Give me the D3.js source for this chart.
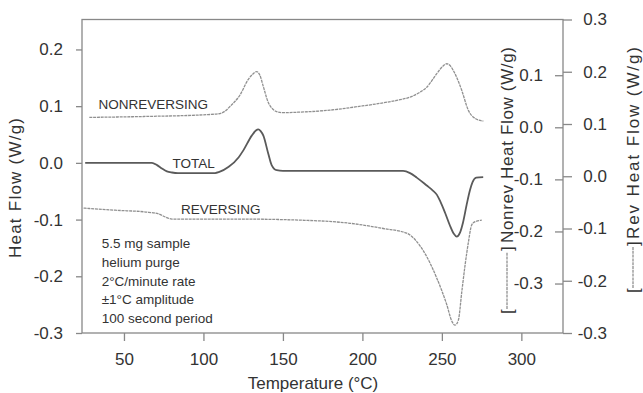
<!DOCTYPE html>
<meta charset="utf-8">
<style>
body { margin: 0; background: #fff; }
svg { font-family: "Liberation Sans", Arial, sans-serif; }
.axis text { font-size: 17px; fill: #333; }
.axis line { stroke: #888; stroke-width: 1.3; }
.axis path { display: none; }
.note { font-size: 13.5px; fill: #333; }
.title { font-size: 17px; fill: #333; }
</style>
<body></body>
<script src="https://cdnjs.cloudflare.com/ajax/libs/d3/7.8.5/d3.min.js"></script>
<script>
// data
var totalTemp = [25.6, 67.6, 70.8, 73.9, 77, 80.2, 84, 107.3, 110, 115.9, 122.2, 125.1, 130.4, 133, 134.5, 136, 137.7, 140.8, 142.9, 146.1, 150, 160.7, 225.6, 230, 234.2, 240.5, 244, 246.8, 249, 252, 255, 257.5, 259.3, 261.4, 263.3, 265.5, 267.7, 269.3, 271.6, 276.0];
var totalFlow = [0.000, 0.000, -0.004, -0.010, -0.015, -0.017, -0.018, -0.018, -0.016, -0.007, 0.010, 0.022, 0.048, 0.057, 0.059, 0.056, 0.048, 0.016, -0.004, -0.013, -0.014, -0.014, -0.014, -0.018, -0.026, -0.040, -0.048, -0.056, -0.068, -0.088, -0.110, -0.125, -0.130, -0.123, -0.105, -0.075, -0.048, -0.034, -0.026, -0.025];

var nonrevTemp = [28.2, 66.4, 100, 109.6, 114, 116.7, 123.0, 128.0, 131, 133.5, 135.5, 137.7, 140.6, 143, 146.1, 149.4, 160, 179.6, 200, 211.1, 223.7, 230.0, 236, 240.5, 246.8, 250.5, 253.1, 255, 257.2, 260, 262.5, 266.6, 270.9, 276.1];
var nonrevFlow = [0.019, 0.021, 0.024, 0.026, 0.032, 0.040, 0.062, 0.091, 0.102, 0.107, 0.100, 0.078, 0.049, 0.037, 0.030, 0.028, 0.029, 0.033, 0.041, 0.046, 0.053, 0.058, 0.067, 0.077, 0.103, 0.117, 0.122, 0.119, 0.109, 0.091, 0.071, 0.033, 0.017, 0.012];

var revTemp = [24.6, 44.5, 65.5, 71.8, 76, 80.2, 124.2, 160.7, 192.2, 213.2, 227.9, 234.2, 240.5, 246.8, 253.1, 256.2, 258.3, 260.4, 262.5, 264.6, 266.6, 268.8, 270.9, 275.1];
var revFlow = [-0.061, -0.065, -0.069, -0.072, -0.078, -0.082, -0.082, -0.084, -0.090, -0.100, -0.109, -0.125, -0.154, -0.195, -0.246, -0.277, -0.285, -0.275, -0.222, -0.170, -0.128, -0.093, -0.087, -0.084];

var xTicks = [50, 100, 150, 200, 250, 300];
var leftTicks = [-0.3, -0.2, -0.1, 0.0, 0.1, 0.2];
var nonrevTicks = [-0.3, -0.2, -0.1, 0.0, 0.1];
var revTicks = [-0.3, -0.2, -0.1, 0.0, 0.1, 0.2, 0.3];
var notes = ["5.5 mg sample", "helium purge", "2°C/minute rate", "±1°C amplitude", "100 second period"];

var W = 643, H = 393;
var pLeft = 82, pRight = 563, pTop = 19.5, pBottom = 333;

var svg = d3.select("body").append("svg")
    .attr("width", W)
    .attr("height", H);

var x = d3.scaleLinear().domain([23.6, 326.2]).range([pLeft, pRight]);
var yTotal = d3.scaleLinear().domain([-0.3, 0.2528]).range([pBottom, pTop]);
var yNonrev = d3.scaleLinear().domain([-0.395, 0.207]).range([pBottom, pTop]);
var yRev = d3.scaleLinear().domain([-0.3, 0.3]).range([pBottom, pTop]);

var fmt = function(d) { return d.toFixed(1); };

// frame
svg.append("rect")
    .attr("x", pLeft).attr("y", pTop)
    .attr("width", pRight - pLeft).attr("height", pBottom - pTop)
    .attr("fill", "none").attr("stroke", "#888").attr("stroke-width", 1.3);

svg.append("g")
    .attr("class", "axis")
    .attr("transform", "translate(0," + pBottom + ")")
    .call(d3.axisBottom(x).tickValues(xTicks).tickSize(8).tickPadding(12));

svg.append("g")
    .attr("class", "axis")
    .attr("transform", "translate(" + pLeft + ",0)")
    .call(d3.axisLeft(yTotal).tickValues(leftTicks).tickFormat(fmt).tickSize(6).tickPadding(13));

svg.append("g")
    .attr("class", "axis")
    .attr("transform", "translate(" + pRight + ",0)")
    .call(d3.axisLeft(yNonrev).tickValues(nonrevTicks).tickFormat(fmt).tickSize(8).tickPadding(12));

var revAxis = svg.append("g")
    .attr("class", "axis")
    .attr("transform", "translate(" + pRight + ",0)")
    .call(d3.axisRight(yRev).tickValues(revTicks).tickFormat(fmt).tickSize(9));
revAxis.selectAll("text").attr("x", 44).attr("text-anchor", "end");

// curves
function series(temps, vals) {
  return temps.map(function(t, i) { return [t, vals[i]]; });
}

var dotted = "3,0.8";
var curves = [
  {data: series(nonrevTemp, nonrevFlow), y: yNonrev, color: "#909090", width: 1.3, dash: dotted},
  {data: series(revTemp, revFlow), y: yRev, color: "#909090", width: 1.3, dash: dotted},
  {data: series(totalTemp, totalFlow), y: yTotal, color: "#5a5a5a", width: 1.8, dash: null}
];

curves.forEach(function(c) {
  var line = d3.line()
      .x(function(d) { return x(d[0]); })
      .y(function(d) { return c.y(d[1]); })
      .curve(d3.curveMonotoneX);
  svg.append("path")
      .datum(c.data)
      .attr("fill", "none")
      .attr("stroke", c.color)
      .attr("stroke-width", c.width)
      .attr("stroke-dasharray", c.dash)
      .attr("d", line);
});

// curve labels
svg.append("text").attr("class", "note").attr("x", 98.5).attr("y", 109).text("NONREVERSING");
svg.append("text").attr("class", "note").attr("x", 172.5).attr("y", 168.3).text("TOTAL");
svg.append("text").attr("class", "note").attr("x", 181).attr("y", 214).text("REVERSING");

svg.selectAll(".info")
    .data(notes)
    .enter().append("text")
    .attr("class", "note")
    .attr("x", 101.7)
    .attr("y", function(d, i) { return 248.3 + i * 18.6; })
    .text(function(d) { return d; });

// axis titles
svg.append("text")
    .attr("class", "title")
    .attr("x", 313).attr("y", 389)
    .attr("text-anchor", "middle")
    .text("Temperature (°C)");

svg.append("text")
    .attr("class", "title")
    .attr("transform", "translate(21,188) rotate(-90)")
    .attr("text-anchor", "middle")
    .attr("textLength", 140)
    .text("Heat Flow (W/g)");

function sideTitle(bx, label, titleFrom, titleLen, bracketTop, bracketBottom, color, dash) {
  var g = svg.append("g").attr("transform", "translate(" + bx + ",0) rotate(-90)");
  g.append("text").attr("class", "title").attr("x", -bracketBottom - 5).attr("y", 0).text("[");
  g.append("line")
      .attr("x1", -bracketBottom).attr("x2", -bracketTop)
      .attr("y1", -6).attr("y2", -6)
      .attr("stroke", color).attr("stroke-width", 1.3).attr("stroke-dasharray", dash);
  g.append("text").attr("class", "title").attr("x", -bracketTop + 1).attr("y", 0).text("]");
  g.append("text").attr("class", "title")
      .attr("x", -titleFrom).attr("y", 0)
      .attr("textLength", titleLen)
      .text(label);
}

sideTitle(513, "Nonrev Heat Flow (W/g)", 243, 196, 252, 309, "#909090", dotted);
sideTitle(639, "Rev Heat Flow (W/g)", 239, 192, 247, 288, "#909090", dotted);
</script>
